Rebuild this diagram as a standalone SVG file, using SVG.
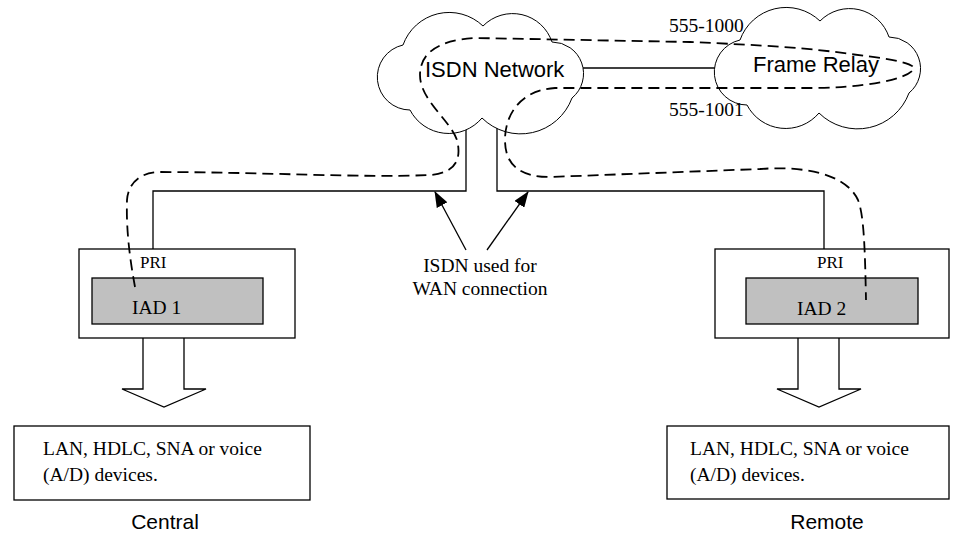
<svg xmlns="http://www.w3.org/2000/svg" width="958" height="537" viewBox="0 0 958 537">
  <style>
    .box { fill: #ffffff; stroke: #000000; stroke-width: 1.3; }
    .iad { fill: #c0c0c0; stroke: #000000; stroke-width: 1.3; }
    .line { fill: none; stroke: #000000; stroke-width: 1.3; }
    .cloud { fill: #ffffff; stroke: #000000; stroke-width: 1; }
    .dash { fill: none; stroke: #000000; stroke-width: 1.8; stroke-dasharray: 11 6; }
    .serif { font-family: "Liberation Serif", "Times New Roman", serif; fill: #000000; }
    .sans { font-family: "Liberation Sans", Arial, sans-serif; fill: #000000; }
  </style>
  <defs>
    <path id="cloudShape" d="M 25 32 A 49 49 0 0 1 105 13 A 41.5 41.5 0 0 1 174 29 A 31.6 31.6 0 0 1 194 85 A 54.8 54.8 0 0 1 104 105 A 43.6 43.6 0 0 1 32 97 A 32.9 32.9 0 0 1 25 32 Z"/>
    <marker id="arrowHead" viewBox="0 0 16 12" refX="15" refY="6" markerWidth="16" markerHeight="12" markerUnits="userSpaceOnUse" orient="auto">
      <path d="M 0 0 L 16 6 L 0 12 Z" fill="#000000"/>
    </marker>
  </defs>

  <rect width="958" height="537" fill="#ffffff"/>

  <!-- wiring between the sites and the ISDN cloud -->
  <g id="connectors">
    <polyline class="line" points="153,249 153,191 466,191 466,128"/>
    <polyline class="line" points="497,128 497,191 824,191 824,249"/>
    <line class="line" x1="583" y1="68" x2="715" y2="68"/>
    <line class="line" x1="466" y1="250" x2="435" y2="192" marker-end="url(#arrowHead)"/>
    <line class="line" x1="487" y1="250" x2="528" y2="192" marker-end="url(#arrowHead)"/>
    <!-- block arrows down to the attached devices -->
    <path class="box" d="M 143 338 L 143 389 L 122 389 L 164 407 L 206 389 L 184 389 L 184 338"/>
    <path class="box" d="M 798 338 L 798 389 L 777 389 L 819 407 L 861 389 L 839 389 L 839 338"/>
  </g>

  <g id="isdn-network">
    <use href="#cloudShape" class="cloud" transform="translate(378,13)"/>
    <text class="sans" x="425" y="77" font-size="22">ISDN Network</text>
  </g>

  <g id="frame-relay">
    <use href="#cloudShape" class="cloud" transform="translate(715,8)"/>
    <text class="sans" x="753" y="72" font-size="22">Frame Relay</text>
  </g>

  <g id="iad1">
    <rect class="box" x="79" y="249" width="216" height="89"/>
    <text class="serif" x="140" y="268" font-size="17">PRI</text>
    <rect class="iad" x="92" y="278" width="171" height="46"/>
    <text class="serif" x="132" y="314" font-size="19.5">IAD 1</text>
  </g>

  <g id="iad2">
    <rect class="box" x="715" y="249" width="234" height="89"/>
    <text class="serif" x="817" y="268" font-size="17">PRI</text>
    <rect class="iad" x="746" y="278" width="172" height="46"/>
    <text class="serif" x="797" y="315" font-size="19.5">IAD 2</text>
  </g>

  <g id="central-devices">
    <rect class="box" x="14" y="426" width="296" height="74"/>
    <text class="serif" x="43" y="455" font-size="19.5">LAN, HDLC, SNA or voice</text>
    <text class="serif" x="43" y="481" font-size="19.5">(A/D) devices.</text>
    <text class="sans" x="165" y="529" font-size="21" text-anchor="middle">Central</text>
  </g>

  <g id="remote-devices">
    <rect class="box" x="667" y="426" width="282" height="73"/>
    <text class="serif" x="690" y="455" font-size="19.5">LAN, HDLC, SNA or voice</text>
    <text class="serif" x="690" y="481" font-size="19.5">(A/D) devices.</text>
    <text class="sans" x="827" y="529" font-size="21" text-anchor="middle">Remote</text>
  </g>

  <g id="labels">
    <text class="serif" x="480" y="272" font-size="19.5" text-anchor="middle">ISDN used for</text>
    <text class="serif" x="480" y="295" font-size="19.5" text-anchor="middle">WAN connection</text>
    <text class="serif" x="669" y="32" font-size="19.5">555-1000</text>
    <text class="serif" x="669" y="116" font-size="19.5">555-1001</text>
  </g>

  <!-- call path: IAD 1 through ISDN, looped at the Frame Relay cloud, back to IAD 2 -->
  <g id="call-path">
    <path class="dash" d="M 135 287 C 130 260 126 230 127 200 C 128 185 138 173 158 172 C 260 172 360 178 430 175 C 455 173 462 160 457 140 C 450 120 420 100 420 75 C 420 52 440 40 475 38 L 690 42 C 760 45 810 48 850 54 C 905 60 918 66 913 70 C 905 80 860 88 813 88 L 555 88 C 520 90 505 115 505 140 C 505 165 520 177 550 177 L 760 169 C 800 166 845 172 858 200 C 864 215 865 250 866 300"/>
  </g>
</svg>
